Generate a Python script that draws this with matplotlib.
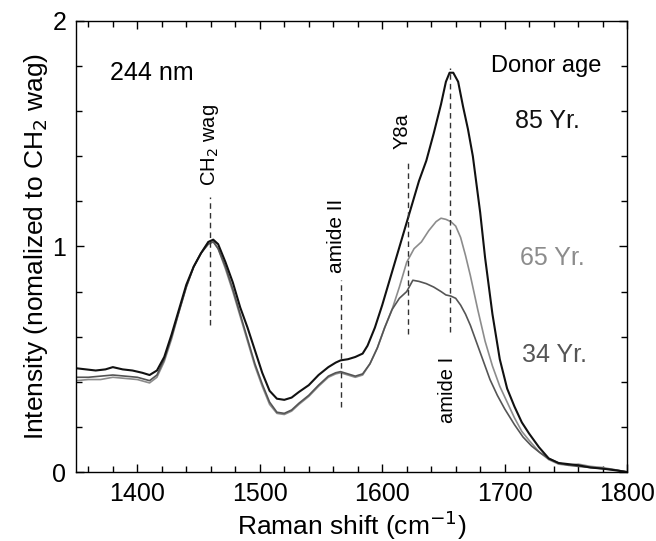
import matplotlib
matplotlib.use("Agg")
import matplotlib.pyplot as plt
from matplotlib.ticker import MultipleLocator

plt.rcParams['font.family'] = ['Liberation Sans', 'DejaVu Sans']

# 85 Yr. (black)
x85 = [1350, 1358, 1366, 1374, 1380, 1388, 1396, 1404, 1410, 1416, 1422, 1428, 1434, 1440,
       1446, 1452, 1458, 1462, 1466, 1472, 1478, 1484, 1490, 1496, 1502, 1508, 1514, 1520,
       1526, 1532, 1540, 1548, 1556, 1562, 1566, 1572, 1578, 1584, 1588, 1594, 1600, 1606,
       1612, 1618, 1624, 1630, 1636, 1642, 1648, 1652, 1655, 1658, 1662, 1666, 1670, 1674,
       1680, 1684, 1690, 1696, 1702, 1708, 1714, 1720, 1728, 1736, 1744, 1752, 1760, 1770,
       1780, 1790, 1800]
y85 = [0.46, 0.455, 0.45, 0.455, 0.465, 0.455, 0.45, 0.44, 0.43, 0.45, 0.51, 0.61, 0.72, 0.83,
       0.91, 0.97, 1.02, 1.03, 1.01, 0.93, 0.84, 0.73, 0.64, 0.54, 0.44, 0.36, 0.325, 0.32,
       0.33, 0.355, 0.385, 0.43, 0.465, 0.485, 0.495, 0.50, 0.51, 0.525, 0.56, 0.64, 0.74, 0.85,
       0.96, 1.07, 1.18, 1.29, 1.38, 1.50, 1.63, 1.73, 1.77, 1.77, 1.73, 1.62, 1.52, 1.40,
       1.15, 0.95, 0.70, 0.50, 0.37, 0.29, 0.22, 0.17, 0.11, 0.06, 0.04, 0.035, 0.03, 0.02,
       0.015, 0.008, 0.0]

# 65 Yr. (light grey)
x65 = [1350, 1360, 1370, 1380, 1390, 1400, 1410, 1416, 1422, 1428, 1434, 1440, 1446, 1452,
       1458, 1462, 1466, 1472, 1478, 1484, 1490, 1496, 1502, 1508, 1514, 1520, 1526, 1532,
       1540, 1548, 1556, 1562, 1566, 1572, 1578, 1584, 1590, 1596, 1602, 1608, 1614, 1620,
       1626, 1632, 1638, 1644, 1648, 1652, 1656, 1660, 1664, 1668, 1672, 1678, 1684, 1690,
       1696, 1702, 1708, 1714, 1720, 1728, 1736, 1744, 1752, 1760, 1770, 1780, 1790, 1800]
y65 = [0.405, 0.41, 0.41, 0.42, 0.415, 0.41, 0.395, 0.42, 0.49, 0.59, 0.71, 0.82, 0.91, 0.97,
       1.02, 1.025, 0.99, 0.90, 0.80, 0.69, 0.58, 0.47, 0.38, 0.30, 0.26, 0.255, 0.27, 0.30,
       0.335, 0.38, 0.42, 0.435, 0.44, 0.43, 0.42, 0.43, 0.48, 0.55, 0.64, 0.72, 0.82, 0.93,
       0.99, 1.02, 1.07, 1.11, 1.125, 1.12, 1.11, 1.09, 1.04, 0.96, 0.87, 0.72, 0.58, 0.47,
       0.38, 0.31, 0.24, 0.18, 0.14, 0.09, 0.055, 0.035, 0.03, 0.035, 0.025, 0.02, 0.01, 0.0]

# 34 Yr. (dark grey)
x34 = [1350, 1360, 1370, 1380, 1390, 1400, 1410, 1416, 1422, 1428, 1434, 1440, 1446, 1452,
       1458, 1462, 1466, 1472, 1478, 1484, 1490, 1496, 1502, 1508, 1514, 1520, 1526, 1532,
       1540, 1548, 1556, 1562, 1566, 1572, 1578, 1584, 1590, 1596, 1602, 1608, 1614, 1620,
       1625, 1630, 1636, 1642, 1648, 1652, 1656, 1660, 1664, 1668, 1672, 1676, 1682, 1688,
       1694, 1700, 1708, 1715, 1722, 1729, 1736, 1744, 1752, 1760, 1770, 1780, 1790, 1800]
y34 = [0.42, 0.42, 0.425, 0.43, 0.425, 0.42, 0.405, 0.43, 0.50, 0.60, 0.71, 0.82, 0.91, 0.97,
       1.01, 1.02, 0.99, 0.91, 0.81, 0.70, 0.59, 0.48, 0.39, 0.31, 0.265, 0.26, 0.275, 0.305,
       0.34, 0.385, 0.425, 0.44, 0.445, 0.435, 0.425, 0.435, 0.48, 0.55, 0.64, 0.72, 0.77, 0.80,
       0.85, 0.845, 0.835, 0.82, 0.80, 0.785, 0.78, 0.77, 0.74, 0.70, 0.65, 0.59, 0.50, 0.41,
       0.34, 0.28, 0.21, 0.155, 0.115, 0.085, 0.06, 0.04, 0.03, 0.025, 0.02, 0.015, 0.01, 0.0]

# band markers: position, dashed line span, label
band_pos = [1459, 1566, 1621, 1655]
band_lo = [0.65, 0.29, 0.61, 0.62]
band_hi = [1.22, 0.85, 1.37, 1.79]
band_names = ['CH$_2$ wag', 'amide II', 'Y8a', 'amide I']

fig = plt.figure(figsize=(6.56, 5.41), dpi=100)
ax = fig.add_axes([0.116, 0.1275, 0.84, 0.834])

ax.plot(x65, y65, color='#8c8c8c', lw=1.2)
ax.plot(x34, y34, color='#555555', lw=1.2)
ax.plot(x85, y85, color='#111111', lw=1.5)

for xp, lo, hi in zip(band_pos, band_lo, band_hi):
    ax.plot([xp, xp], [lo, hi], color='#333333', lw=1.0, ls=(0, (4, 3)))

# labels of the bands
ax.text(band_pos[0], 1.27, band_names[0], rotation=90, ha='center', va='bottom', fontsize=14.5)
ax.text(band_pos[1] - 3, 0.88, band_names[1], rotation=90, ha='center', va='bottom', fontsize=15)
ax.text(band_pos[2] - 5, 1.43, band_names[2], rotation=90, ha='center', va='bottom', fontsize=14.5)
ax.text(band_pos[3] - 2, 0.51, band_names[3], rotation=90, ha='center', va='top', fontsize=14.5)

ax.text(1378, 1.77, '244 nm', ha='left', va='center', fontsize=18)
ax.text(1734, 1.80, 'Donor age', ha='center', va='center', fontsize=17)
ax.text(1735, 1.555, '85 Yr.', ha='center', va='center', fontsize=18, color='#111111')
ax.text(1739, 0.95, '65 Yr.', ha='center', va='center', fontsize=18, color='#8c8c8c')
ax.text(1741, 0.52, '34 Yr.', ha='center', va='center', fontsize=18, color='#555555')

ax.set_xlim(1350, 1800)
ax.set_ylim(0, 2)
ax.xaxis.set_major_locator(MultipleLocator(100))
ax.xaxis.set_minor_locator(MultipleLocator(20))
ax.yaxis.set_major_locator(MultipleLocator(1))
ax.yaxis.set_minor_locator(MultipleLocator(0.2))
ax.tick_params(which='both', direction='in', top=True, right=True, labelsize=18, width=1)
ax.tick_params(which='major', length=6, pad=7)
ax.tick_params(which='minor', length=4)
for s in ax.spines.values():
    s.set_linewidth(1.0)

ax.set_xlabel('Raman shift (cm$^{-1}$)', fontsize=19, labelpad=2)
ax.set_ylabel('Intensity (nomalized to CH$_2$ wag)', fontsize=19, labelpad=2)

fig.savefig('out.png', dpi=100)
